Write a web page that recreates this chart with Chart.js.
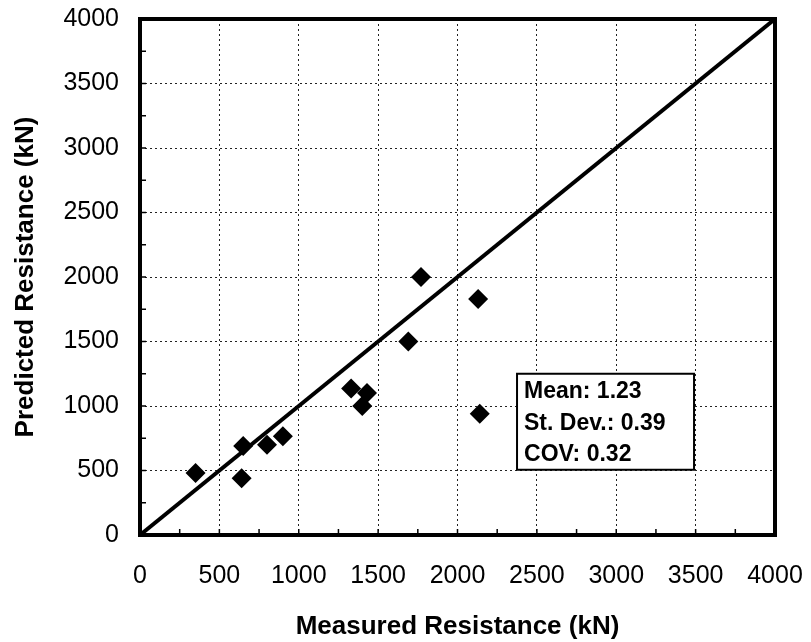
<!DOCTYPE html>
<html>
<head>
<meta charset="utf-8">
<script src="https://cdn.jsdelivr.net/npm/chart.js@4/dist/chart.umd.min.js"></script>
<style>
  html, body { margin: 0; padding: 0; background: #fff; }
  #wrap { width: 811px; height: 642px; }
</style>
</head>
<body>
<div id="wrap"><canvas id="c" width="811" height="642"></canvas></div>
<script>
// Data
const measured  = [350, 640, 650, 800, 900, 1330, 1400, 1430, 1690, 1770, 2130, 2140];
const predicted = [480, 440, 690, 700, 765, 1135, 1000, 1100, 1500, 2000, 1830, 940];
const lineX = [0, 4000];
const lineY = [0, 4000];
const statsLines = ['Mean: 1.23', 'St. Dev.: 0.39', 'COV: 0.32'];
const xTitle = 'Measured Resistance (kN)';
const yTitle = 'Predicted Resistance (kN)';
const axisMin = 0, axisMax = 4000, axisStep = 500, minorStep = 250;

const frame = {
  id: 'frame',
  afterDatasetsDraw(chart) {
    const { ctx, chartArea: a, scales } = chart;
    ctx.save();
    ctx.strokeStyle = '#000';
    ctx.lineWidth = 1.5;
    for (let v = axisMin + minorStep; v < axisMax; v += minorStep) {
      const px = scales.x.getPixelForValue(v);
      const py = scales.y.getPixelForValue(v);
      ctx.beginPath();
      ctx.moveTo(px, a.bottom); ctx.lineTo(px, a.bottom - 6);
      ctx.moveTo(a.left, py); ctx.lineTo(a.left + 6, py);
      ctx.stroke();
    }
    ctx.lineWidth = 4;
    ctx.strokeRect(a.left, a.top, a.right - a.left, a.bottom - a.top);
    const bx = scales.x.getPixelForValue(2375), by = scales.y.getPixelForValue(1250);
    const bw = 177, bh = 96;
    ctx.fillStyle = '#fff';
    ctx.fillRect(bx, by, bw, bh);
    ctx.lineWidth = 2;
    ctx.strokeRect(bx, by, bw, bh);
    ctx.fillStyle = '#000';
    ctx.font = 'bold 23px "Liberation Sans", Arial, sans-serif';
    ctx.textBaseline = 'middle';
    ctx.textAlign = 'left';
    statsLines.forEach((t, i) => ctx.fillText(t, bx + 7, by + 18 + i * 31.5));
    ctx.restore();
  }
};

const tickFont = { family: '"Liberation Sans", Arial, sans-serif', size: 25 };
const titleFont = { family: '"Liberation Sans", Arial, sans-serif', size: 26, weight: 'bold' };

new Chart(document.getElementById('c'), {
  type: 'scatter',
  data: {
    datasets: [
      {
        label: 'Data',
        data: measured.map((m, i) => ({ x: m, y: predicted[i] })),
        pointStyle: 'rectRot',
        pointRadius: 10,
        pointHoverRadius: 10,
        backgroundColor: '#000',
        borderColor: '#000',
        borderWidth: 0,
        order: 0
      },
      {
        label: '1:1',
        type: 'line',
        data: lineX.map((x, i) => ({ x, y: lineY[i] })),
        borderColor: '#000',
        borderWidth: 4,
        pointRadius: 0,
        fill: false,
        order: 1
      }
    ]
  },
  options: {
    responsive: false,
    animation: false,
    devicePixelRatio: 1,
    layout: { padding: { left: 0, top: 19, right: 36, bottom: 0 } },
    plugins: { legend: { display: false }, tooltip: { enabled: false } },
    scales: {
      x: {
        type: 'linear',
        min: axisMin, max: axisMax,
        ticks: { stepSize: axisStep, color: '#000', padding: 26, maxRotation: 0,
                 font: tickFont, callback: v => String(v) },
        grid: { color: '#222', lineWidth: 1, drawTicks: false },
        border: { display: false, dash: [2, 3] },
        title: { display: true, text: xTitle, color: '#000', padding: { top: 24, bottom: 0 }, font: titleFont },
        afterFit(s) { s.height = 107; s.paddingLeft = 0; s.paddingRight = 0; }
      },
      y: {
        type: 'linear',
        min: axisMin, max: axisMax,
        ticks: { stepSize: axisStep, color: '#000', padding: 21,
                 font: tickFont, callback: v => String(v) },
        grid: { color: '#222', lineWidth: 1, drawTicks: false },
        border: { display: false, dash: [2, 3] },
        title: { display: true, text: yTitle, color: '#000', padding: { top: 10, bottom: 0 }, font: titleFont },
        afterFit(s) { s.width = 140; s.paddingTop = 0; s.paddingBottom = 0; }
      }
    }
  },
  plugins: [frame]
});
</script>
</body>
</html>
